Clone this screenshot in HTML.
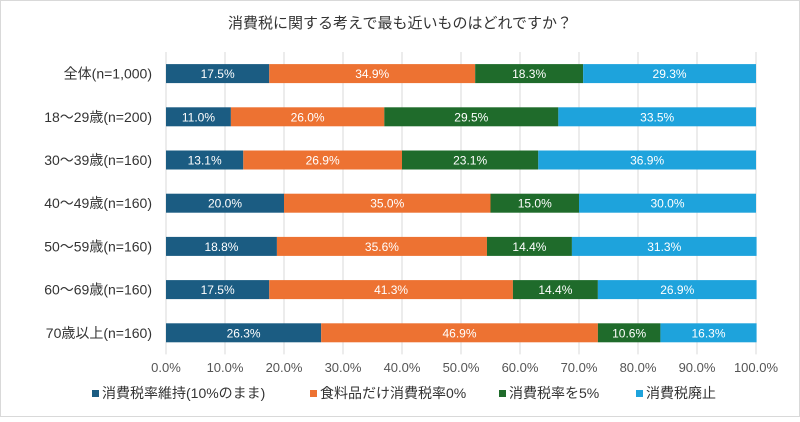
<!DOCTYPE html>
<html><head><meta charset="utf-8"><style>
body{margin:0;background:#fff;}
svg text{font-family:"Liberation Sans","Noto Sans CJK JP",sans-serif;}
</style></head><body>
<svg width="800" height="417" viewBox="0 0 800 417">
<rect x="0.5" y="0.5" width="799" height="416" fill="#fff" stroke="#d9d9d9"/>
<text x="400" y="28" text-anchor="middle" font-size="15" fill="#333">消費税に関する考えで最も近いものはどれですか？</text>
<g id="grid"></g><g id="bars"></g><g id="cats"></g><g id="ticks"></g><g id="legend"></g>
</svg>
<script>
const categories=["全体(n=1,000)","18～29歳(n=200)","30～39歳(n=160)","40～49歳(n=160)","50～59歳(n=160)","60～69歳(n=160)","70歳以上(n=160)"];
const seriesNames=["消費税率維持(10%のまま)","食料品だけ消費税率0%","消費税率を5%","消費税廃止"];
const s1=[17.5,11.0,13.1,20.0,18.8,17.5,26.3];
const s2=[34.9,26.0,26.9,35.0,35.6,41.3,46.9];
const s3=[18.3,29.5,23.1,15.0,14.4,14.4,10.6];
const s4=[29.3,33.5,36.9,30.0,31.3,26.9,16.3];
const tickLabels=["0.0%","10.0%","20.0%","30.0%","40.0%","50.0%","60.0%","70.0%","80.0%","90.0%","100.0%"];
const colors=["#1b5c82","#ed7232","#1f6b2b","#1ea3dc"];
const NS="http://www.w3.org/2000/svg";
const X0=166,X1=756,Y0=52,ROW=43.2,BH=19;
const xs=v=>X0+(X1-X0)*v/100;
const yc=i=>Y0+ROW*(i+0.5);
function mk(tag,attrs,parent){const e=document.createElementNS(NS,tag);for(const k in attrs)e.setAttribute(k,attrs[k]);parent.appendChild(e);return e;}
const grid=document.getElementById('grid'),bars=document.getElementById('bars'),cats=document.getElementById('cats'),ticks=document.getElementById('ticks'),legend=document.getElementById('legend');
tickLabels.forEach((t,i)=>{const v=i*10;
 const l=mk('line',{x1:xs(v),x2:xs(v),y1:Y0,y2:Y0+ROW*7,stroke:'#d9d9d9'},grid);
 
 
 const tx=mk('text',{x:xs(v),y:372,'text-anchor':'middle','font-size':13,fill:'#555'},ticks);tx.textContent=t;
 
 
});
const series=[s1,s2,s3,s4];
categories.forEach((c,i)=>{
 const t=mk('text',{x:152,y:yc(i)+5,'text-anchor':'end','font-size':14,fill:'#333'},cats);t.textContent=c;
 
 
 let acc=0;
 series.forEach((s,k)=>{const v=s[i];
  const r=mk('rect',{x:xs(acc),y:yc(i)-BH/2,width:xs(acc+v)-xs(acc),height:BH,fill:colors[k]},bars);
  
  
  const lt=mk('text',{x:(xs(acc)+xs(acc+v))/2,y:yc(i)+4.5,'text-anchor':'middle','font-size':12,fill:'#fff'},bars);lt.textContent=v.toFixed(1)+'%';
  
  
  acc+=v;});
});
const lx=[92,310,499,636];
seriesNames.forEach((n,k)=>{
 const g=mk('g',{},legend);
 
 
 mk('rect',{x:lx[k],y:390,width:7,height:7,fill:colors[k]},g);
 const t=mk('text',{x:lx[k]+10,y:398,'font-size':14,fill:'#333'},g);t.textContent=n;
});
</script>
</body></html>
